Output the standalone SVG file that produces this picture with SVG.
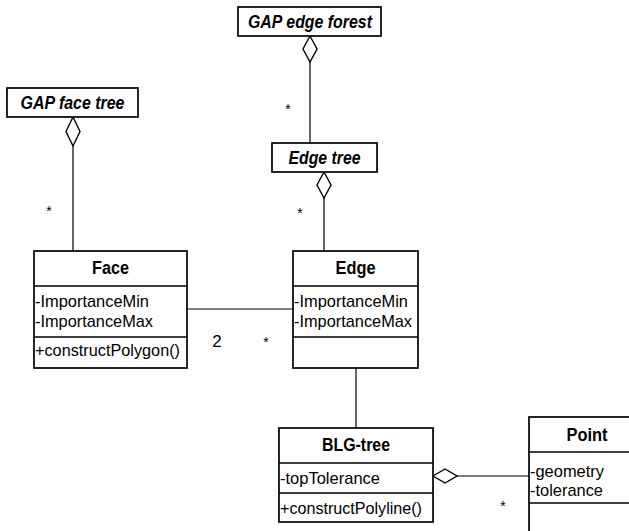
<svg xmlns="http://www.w3.org/2000/svg" width="629" height="531" viewBox="0 0 629 531">
  <style>
    .box { fill: #fff; stroke: #000; stroke-width: 1.7; }
    .sep { stroke: #000; stroke-width: 1.7; }
    .ln { stroke: #000; stroke-width: 1.2; fill: none; }
    .dia { fill: #fff; stroke: #000; stroke-width: 1.4; }
    .hdr { font-family: "Liberation Sans", Arial, sans-serif; font-size: 17.5px; font-weight: bold; font-style: italic; text-anchor: middle; }
    .ttl { font-family: "Liberation Sans", Arial, sans-serif; font-size: 18px; font-weight: bold; text-anchor: middle; }
    .mem { font-family: "Liberation Sans", Arial, sans-serif; font-size: 17px; }
    .mul { font-family: "Liberation Sans", Arial, sans-serif; font-size: 14px; text-anchor: middle; }
  </style>
  <rect width="629" height="531" fill="#fff"/>

  <!-- connectors: aggregation diamonds, plain associations, multiplicities -->
  <g id="connectors">
    <line class="ln" x1="310" y1="62" x2="310" y2="143"/>
    <polygon class="dia" points="310,36 317,49 310,62 303,49"/>
    <line class="ln" x1="324" y1="198" x2="324" y2="251"/>
    <polygon class="dia" points="324,172 331,185 324,198 317,185"/>
    <line class="ln" x1="73" y1="146" x2="73" y2="251"/>
    <polygon class="dia" points="73,117 80,131.5 73,146 66,131.5"/>
    <line class="ln" x1="187" y1="309" x2="293" y2="309"/>
    <line class="ln" x1="356" y1="368" x2="356" y2="428"/>
    <line class="ln" x1="457" y1="476" x2="529" y2="476"/>
    <polygon class="dia" points="433,476 445,469 457,476 445,483"/>
    <text class="mul" x="288" y="114">*</text>
    <text class="mul" x="300" y="218">*</text>
    <text class="mul" x="49" y="216">*</text>
    <text class="mem" x="217" y="347" text-anchor="middle">2</text>
    <text class="mul" x="266" y="347">*</text>
    <text class="mul" x="503" y="511">*</text>
  </g>

  <g id="gap-edge-forest">
    <rect class="box" x="238" y="7" width="143" height="29"/>
    <text class="hdr" x="310" y="28" textLength="124" lengthAdjust="spacingAndGlyphs">GAP edge forest</text>
  </g>

  <g id="edge-tree">
    <rect class="box" x="272" y="143" width="105" height="29"/>
    <text class="hdr" x="324.5" y="164" textLength="72" lengthAdjust="spacingAndGlyphs">Edge tree</text>
  </g>

  <g id="gap-face-tree">
    <rect class="box" x="7" y="88" width="131" height="29"/>
    <text class="hdr" x="72.5" y="109" textLength="104" lengthAdjust="spacingAndGlyphs">GAP face tree</text>
  </g>

  <g id="face">
    <rect class="box" x="34" y="251" width="153" height="117"/>
    <line class="sep" x1="34" y1="286" x2="187" y2="286"/>
    <line class="sep" x1="34" y1="337" x2="187" y2="337"/>
    <text class="ttl" x="110.5" y="274" textLength="37" lengthAdjust="spacingAndGlyphs">Face</text>
    <text class="mem" x="35" y="307" textLength="114" lengthAdjust="spacingAndGlyphs">-ImportanceMin</text>
    <text class="mem" x="35" y="327" textLength="118" lengthAdjust="spacingAndGlyphs">-ImportanceMax</text>
    <text class="mem" x="35" y="356" textLength="145" lengthAdjust="spacingAndGlyphs">+constructPolygon()</text>
  </g>

  <g id="edge">
    <rect class="box" x="293" y="251" width="125" height="117"/>
    <line class="sep" x1="293" y1="286" x2="418" y2="286"/>
    <line class="sep" x1="293" y1="337" x2="418" y2="337"/>
    <text class="ttl" x="355.5" y="274" textLength="40" lengthAdjust="spacingAndGlyphs">Edge</text>
    <text class="mem" x="294" y="307" textLength="114" lengthAdjust="spacingAndGlyphs">-ImportanceMin</text>
    <text class="mem" x="294" y="327" textLength="118" lengthAdjust="spacingAndGlyphs">-ImportanceMax</text>
  </g>

  <g id="blg-tree">
    <rect class="box" x="279" y="428" width="154" height="94"/>
    <line class="sep" x1="279" y1="463" x2="433" y2="463"/>
    <line class="sep" x1="279" y1="493" x2="433" y2="493"/>
    <text class="ttl" x="356" y="451" textLength="68" lengthAdjust="spacingAndGlyphs">BLG-tree</text>
    <text class="mem" x="280" y="484" textLength="100" lengthAdjust="spacingAndGlyphs">-topTolerance</text>
    <text class="mem" x="280" y="514" textLength="142" lengthAdjust="spacingAndGlyphs">+constructPolyline()</text>
  </g>

  <g id="point">
    <rect class="box" x="529" y="417" width="130" height="130"/>
    <line class="sep" x1="529" y1="452" x2="659" y2="452"/>
    <line class="sep" x1="529" y1="503" x2="659" y2="503"/>
    <text class="ttl" x="587" y="441" textLength="41" lengthAdjust="spacingAndGlyphs">Point</text>
    <text class="mem" x="530" y="477" textLength="74" lengthAdjust="spacingAndGlyphs">-geometry</text>
    <text class="mem" x="530" y="496" textLength="73" lengthAdjust="spacingAndGlyphs">-tolerance</text>
  </g>
</svg>
